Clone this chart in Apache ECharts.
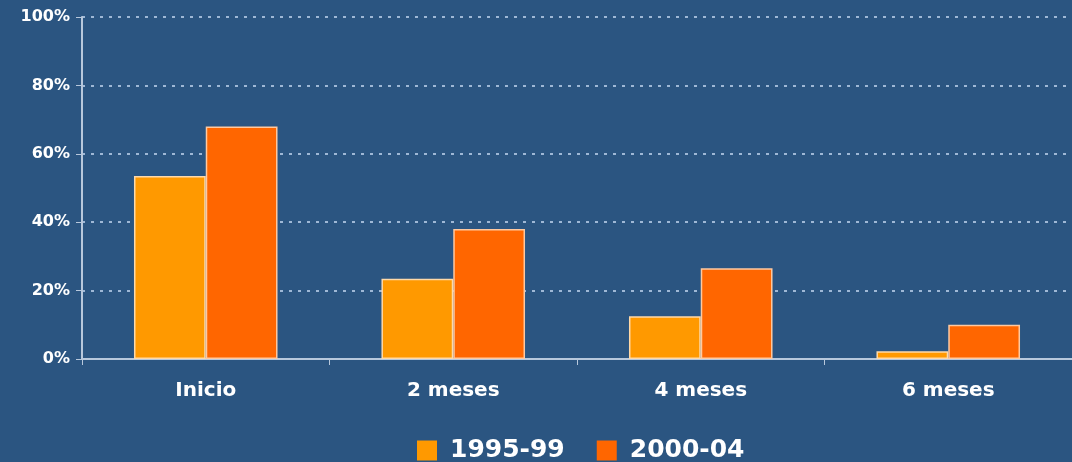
<!DOCTYPE html>
<html>
<head>
<meta charset="utf-8">
<script src="https://cdn.jsdelivr.net/npm/echarts@6/dist/echarts.min.js"></script>
<style>
html,body{margin:0;padding:0;background:#2b5581;overflow:hidden;}
#main{width:1072px;height:462px;}
</style>
</head>
<body>
<div id="main"></div>
<script>
const categories = ['Inicio', '2 meses', '4 meses', '6 meses'];
const seriesNames = ['1995-99', '2000-04'];
const values1995 = [53.5, 23.5, 12.5, 2.3];
const values2000 = [68, 38, 26.5, 10];
const yTicks = [0, 20, 40, 60, 80, 100];

const FONT = 'DejaVu Sans, Liberation Sans, Arial';
const chart = echarts.init(document.getElementById('main'));
chart.setOption({
  backgroundColor: '#2b5581',
  animation: false,
  grid: { left: 82, width: 996, top: 17, bottom: 103, containLabel: false },
  legend: {
    top: 433,
    left: 412,
    itemWidth: 20, itemHeight: 20, itemGap: 32,
    icon: 'rect',
    itemStyle: { borderWidth: 0 },
    textStyle: { color: '#ffffff', fontSize: 25, fontFamily: FONT, fontWeight: 'bold', padding: [0, 0, 0, 8] },
    data: seriesNames
  },
  xAxis: {
    type: 'category',
    data: categories,
    axisLine: { lineStyle: { color: '#b8c8dc', width: 2 } },
    axisTick: { show: true, length: 6, lineStyle: { color: '#b8c8dc' } },
    axisLabel: { color: '#ffffff', fontSize: 20, fontWeight: 'bold', fontFamily: FONT, margin: 22 }
  },
  yAxis: {
    type: 'value',
    min: 0, max: 100, interval: 20,
    axisLine: { show: true, lineStyle: { color: '#b8c8dc', width: 2 } },
    axisTick: { show: true, length: 6, lineStyle: { color: '#b8c8dc' } },
    axisLabel: { color: '#ffffff', fontSize: 16, fontWeight: 'bold', fontFamily: FONT, margin: 12,
      formatter: v => yTicks.includes(v) ? v + '%' : '' },
    splitLine: { show: true, lineStyle: { color: '#9fb8d6', type: [3, 6], width: 2 } }
  },
  series: [
    { name: seriesNames[0], type: 'bar', data: values1995, barGap: '0%', barCategoryGap: '42%',
      itemStyle: { color: '#ff9900', borderColor: '#ffd9a8', borderWidth: 1.5 } },
    { name: seriesNames[1], type: 'bar', data: values2000, barGap: '0%', barCategoryGap: '42%',
      itemStyle: { color: '#ff6600', borderColor: '#ffc9a0', borderWidth: 1.5 } }
  ]
});
</script>
</body>
</html>
